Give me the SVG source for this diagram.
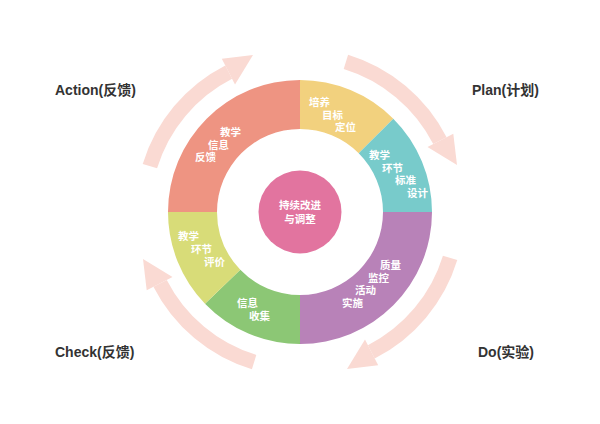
<svg xmlns="http://www.w3.org/2000/svg" width="600" height="424" viewBox="0 0 600 424">
<style>
.seg{stroke:none}
.t{font-family:"Noto Sans CJK SC","Liberation Sans",sans-serif;font-size:10.5px;font-weight:bold;fill:#fff}
.lab{font-family:"Liberation Sans","Noto Sans CJK SC",sans-serif;font-size:14px;font-weight:bold;fill:#333}
.arc{fill:none;stroke:#FADAD3;stroke-width:15}
.head{fill:#FADAD3}
</style>
<defs>
<g id="arrow">
<path class="arc" d="M345.9,61.9 A157,157 0 0 1 439.9,140.7"/>
<polygon class="head" points="427.5,147 453.3,133.8 457,165"/>
</g>
</defs>
<rect width="600" height="424" fill="#fff"/>
<g id="connectors">
<use href="#arrow"/>
<use href="#arrow" transform="rotate(90 300 212)"/>
<use href="#arrow" transform="rotate(180 300 212)"/>
<use href="#arrow" transform="rotate(270 300 212)"/>
</g>
<g id="red"><path class="seg" fill="#EE9482" d="M168,212 A132,132 0 0 1 300,80 L300,129 A83,83 0 0 0 217,212 Z"/>
<text class="t" x="220" y="136">教学</text><text class="t" x="208" y="148.5">信息</text><text class="t" x="195" y="161">反馈</text></g>
<g id="yellow"><path class="seg" fill="#F2D17E" d="M300,80 A132,132 0 0 1 393.3,118.7 L358.7,153.3 A83,83 0 0 0 300,129 Z"/>
<text class="t" x="309" y="106">培养</text><text class="t" x="322" y="118.5">目标</text><text class="t" x="335" y="131">定位</text></g>
<g id="teal"><path class="seg" fill="#78CBCB" d="M393.3,118.7 A132,132 0 0 1 432,212 L383,212 A83,83 0 0 0 358.7,153.3 Z"/>
<text class="t" x="369" y="159">教学</text><text class="t" x="382" y="171.5">环节</text><text class="t" x="395" y="184">标准</text><text class="t" x="407" y="196.5">设计</text></g>
<g id="purple"><path class="seg" fill="#B882B8" d="M432,212 A132,132 0 0 1 300,344 L300,295 A83,83 0 0 0 383,212 Z"/>
<text class="t" x="380" y="269">质量</text><text class="t" x="368" y="281.5">监控</text><text class="t" x="355" y="294">活动</text><text class="t" x="342" y="306.5">实施</text></g>
<g id="green"><path class="seg" fill="#8CC775" d="M300,344 A132,132 0 0 1 205,303.7 L240.3,269.7 A83,83 0 0 0 300,295 Z"/>
<text class="t" x="237" y="307">信息</text><text class="t" x="249" y="320">收集</text></g>
<g id="lime"><path class="seg" fill="#D8DC78" d="M205,303.7 A132,132 0 0 1 168,212 L217,212 A83,83 0 0 0 240.3,269.7 Z"/>
<text class="t" x="178" y="240">教学</text><text class="t" x="191" y="253">环节</text><text class="t" x="204" y="266">评价</text></g>
<g id="center"><circle cx="300" cy="212" r="41.5" fill="#E2749F"/>
<text class="t" x="300" y="209" text-anchor="middle">持续改进</text><text class="t" x="300" y="223" text-anchor="middle">与调整</text></g>
<g id="labels">
<text class="lab" x="55" y="95">Action(反馈)</text>
<text class="lab" x="472" y="95">Plan(计划)</text>
<text class="lab" x="55" y="357">Check(反馈)</text>
<text class="lab" x="478" y="357">Do(实验)</text>
</g>
</svg>
